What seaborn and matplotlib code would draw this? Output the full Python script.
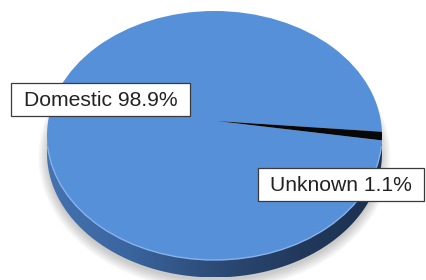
import numpy as np
import matplotlib
matplotlib.use('Agg')
import matplotlib.pyplot as plt
import seaborn as sns
from matplotlib.patches import Ellipse, Arc, Polygon, Rectangle
from matplotlib.colors import LinearSegmentedColormap

sns.set_theme(style='white')
plt.rcParams['font.family'] = ['Liberation Sans', 'DejaVu Sans']

# data
labels = ['Domestic', 'Unknown']
shares = [98.9, 1.1]
colors = ['#5690d8', '#080808']

# geometry of the fake 3d disc (axes units: 1 = horizontal / vertical radius)
depth = 0.14
apex = (0.015, 0.116)   # where the slices meet (perspective)

fig = plt.figure(figsize=(4.27, 2.8), dpi=100)
ax = fig.add_axes([0, 0, 1, 1])

# soft shadow under the disc
for k in range(6):
    sh = Ellipse((0.0, -depth - 0.03), 2.0 + 0.02 * k, 2.0 + 0.03 * k,
                 facecolor='black', edgecolor='none', alpha=0.035, zorder=0)
    ax.add_patch(sh)

# side wall with a left-to-right gradient
t = np.linspace(np.pi, 2 * np.pi, 200)
side = np.concatenate([np.c_[np.cos(t), np.sin(t)],
                       np.c_[np.cos(t[::-1]), np.sin(t[::-1]) - depth]])
side_poly = Polygon(side, closed=True, facecolor='none', edgecolor='none')
ax.add_patch(side_poly)
side_cmap = LinearSegmentedColormap.from_list(
    'side', ['#4573b0', '#3a649e', '#2c4b77', '#22395c', '#1c3150'])
grad = np.linspace(0, 1, 256).reshape(1, -1)
im = ax.imshow(grad, cmap=side_cmap, extent=(-1, 1, -1 - depth, 0),
               aspect='auto', zorder=1)
im.set_clip_path(side_poly)

# top face: pie drawn from the perspective apex, clipped to the ellipse
top = Ellipse((0, 0), 2, 2, facecolor='none', edgecolor='none')
ax.add_patch(top)
wedges, _ = ax.pie(shares, colors=colors, startangle=-5, radius=1.4,
                   center=apex, wedgeprops=dict(linewidth=0))
for w in wedges:
    w.set_clip_on(True)
    w.set_clip_path(top)
    w.set_zorder(2)

# light rim along the front edge
ax.add_patch(Arc((0, 0), 2, 2, theta1=185, theta2=355, color='#86b2ea',
                 lw=1.0, zorder=3))

ax.set_aspect('auto')
ax.set_xlim(-214.5 / 167.5, (427 - 214.5) / 167.5)
ax.set_ylim(-(280 - 135.5) / 124.5, 135.5 / 124.5)
ax.axis('off')

# callout labels
W, H = 427.0, 280.0
boxes = [(11, 83, 179, 33), (258, 168, 166, 33)]
for lab, val, (bx, by, bw, bh) in zip(labels, shares, boxes):
    fig.patches.append(Rectangle((bx / W, 1 - (by + bh) / H), bw / W, bh / H,
                                 transform=fig.transFigure, facecolor='white',
                                 edgecolor='#3a3a3a', lw=0.9, zorder=5))
    fig.text((bx + bw / 2) / W, 1 - (by + bh / 2 + 1) / H, f'{lab} {val:.1f}%',
             ha='center', va='center', fontsize=15.2, color='#222222', zorder=6)

fig.savefig('out.png', dpi=100, facecolor='white')
